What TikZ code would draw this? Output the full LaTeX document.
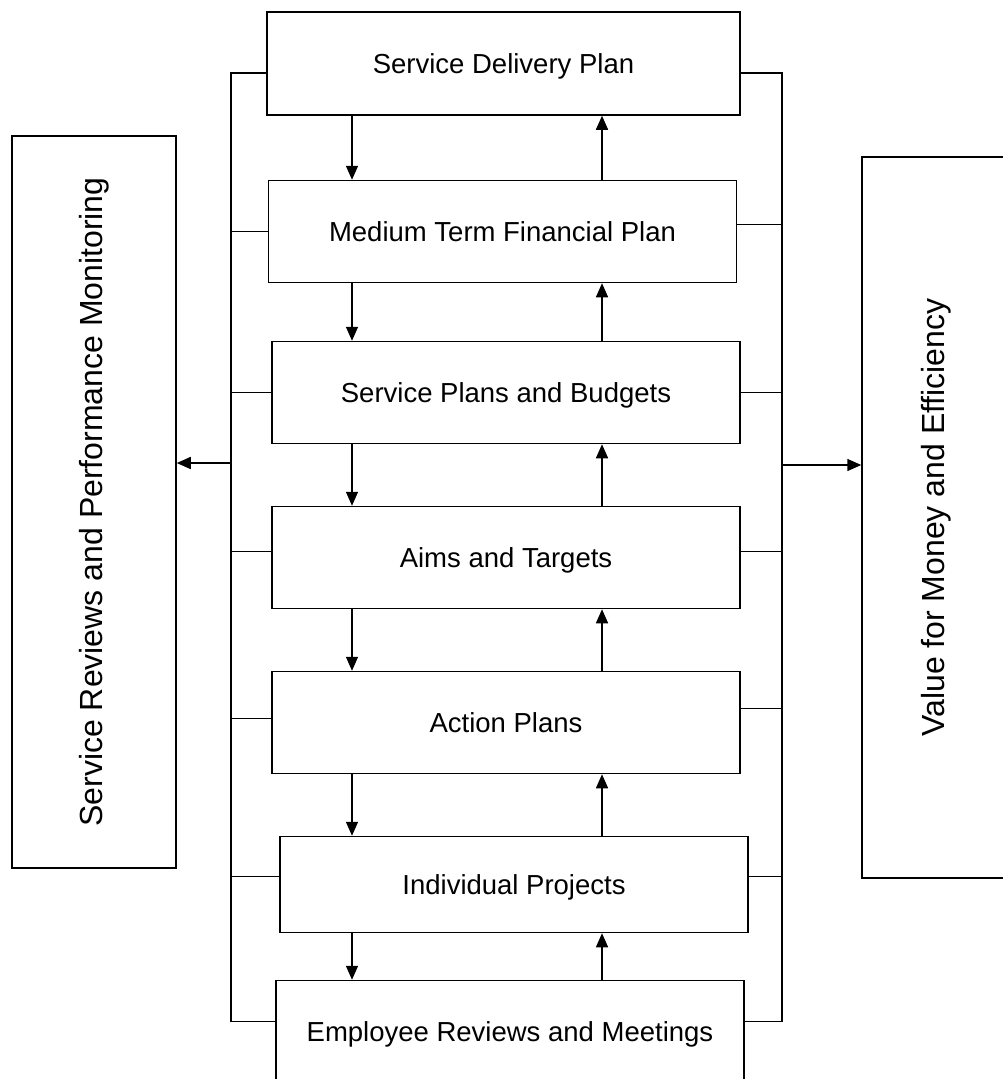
\documentclass[tikz,border=0pt]{standalone}
\usepackage{fontspec}
\setmainfont{Liberation Sans}
\usetikzlibrary{shapes.geometric, arrows.meta}
\tikzstyle{planBox} = [rectangle, minimum width=468pt, minimum height=102pt, text centered, text height=20pt, text depth=0pt, draw=black, line width=1.5pt, font=\fontsize{27.5}{33}\selectfont]
\tikzstyle{sideBox} = [rectangle, text centered, draw=black, line width=1.5pt, font=\fontsize{32}{38}\selectfont]
\tikzstyle{link} = [line width=1.3pt]
\tikzstyle{arrow} = [line width=1.5pt, ->, >={Triangle[length=14pt, width=12pt]}]

\begin{document}
\begin{tikzpicture} [x=1pt, y=-1pt, node distance=165pt]
        \useasboundingbox (0,0) rectangle (1003,1079);

        \node (sdp) [planBox, minimum width=473pt, minimum height=103pt] at (503.5,63.5) {Service Delivery Plan};
        \node (mtfp) [planBox, below of=sdp, xshift=-1pt, yshift=-3pt] {Medium Term Financial Plan};
        \node (spb) [planBox, below of=mtfp, xshift=3.5pt, yshift=4pt] {Service Plans and Budgets};
        \node (aims) [planBox, below of=spb] {Aims and Targets};
        \node (actions) [planBox, below of=aims] {Action Plans};
        \node (projects) [planBox, minimum height=96pt, below of=actions, xshift=8pt, yshift=3pt] {Individual Projects};
        \node (employee) [planBox, below of=projects, xshift=-4pt, yshift=18pt] {Employee Reviews and Meetings};

        \node (reviews) [sideBox, minimum width=164pt, minimum height=732pt] at (94,502) {\rotatebox{90}{Service Reviews and Performance Monitoring}};
        \node (value) [sideBox, minimum width=148pt, minimum height=721pt] at (936,517.5) {\rotatebox{90}{Value for Money and Efficiency}};

        \coordinate (lbus) at (231,463);
        \coordinate (rbus) at (782,465);
        \coordinate (down) at (352,0);
        \coordinate (up) at (602,0);

        % left bus
        \draw[link] ([yshift=-9.5pt]sdp.west) -| ([yshift=10pt]employee.west -| lbus) -- ([yshift=10pt]employee.west);
        \draw[link] (mtfp.west) -- (mtfp.west -| lbus);
        \draw[link] (spb.west) -- (spb.west -| lbus);
        \draw[link] ([yshift=6pt]aims.west) -- ([yshift=6pt]aims.west -| lbus);
        \draw[link] ([yshift=4pt]actions.west) -- ([yshift=4pt]actions.west -| lbus);
        \draw[link] ([yshift=8pt]projects.west) -- ([yshift=8pt]projects.west -| lbus);
        \draw[arrow] (lbus) -- (lbus -| reviews.east);

        % right bus
        \draw[link] ([yshift=-9.5pt]sdp.east) -| ([yshift=10pt]employee.east -| rbus) -- ([yshift=10pt]employee.east);
        \draw[link] ([yshift=7pt]mtfp.east) -- ([yshift=7pt]mtfp.east -| rbus);
        \draw[link] (spb.east) -- (spb.east -| rbus);
        \draw[link] ([yshift=6pt]aims.east) -- ([yshift=6pt]aims.east -| rbus);
        \draw[link] ([yshift=14pt]actions.east) -- ([yshift=14pt]actions.east -| rbus);
        \draw[link] ([yshift=8pt]projects.east) -- ([yshift=8pt]projects.east -| rbus);
        \draw[arrow] (rbus) -- (rbus -| value.west);

        % downward arrows
        \draw[arrow] (sdp.south -| down) -- (mtfp.north -| down);
        \draw[arrow] (mtfp.south -| down) -- (spb.north -| down);
        \draw[arrow] (spb.south -| down) -- (aims.north -| down);
        \draw[arrow] (aims.south -| down) -- (actions.north -| down);
        \draw[arrow] (actions.south -| down) -- (projects.north -| down);
        \draw[arrow] (projects.south -| down) -- (employee.north -| down);

        % upward arrows
        \draw[arrow] (mtfp.north -| up) -- (sdp.south -| up);
        \draw[arrow] (spb.north -| up) -- (mtfp.south -| up);
        \draw[arrow] (aims.north -| up) -- (spb.south -| up);
        \draw[arrow] (actions.north -| up) -- (aims.south -| up);
        \draw[arrow] (projects.north -| up) -- (actions.south -| up);
        \draw[arrow] (employee.north -| up) -- (projects.south -| up);

    \end{tikzpicture}
\end{document}
